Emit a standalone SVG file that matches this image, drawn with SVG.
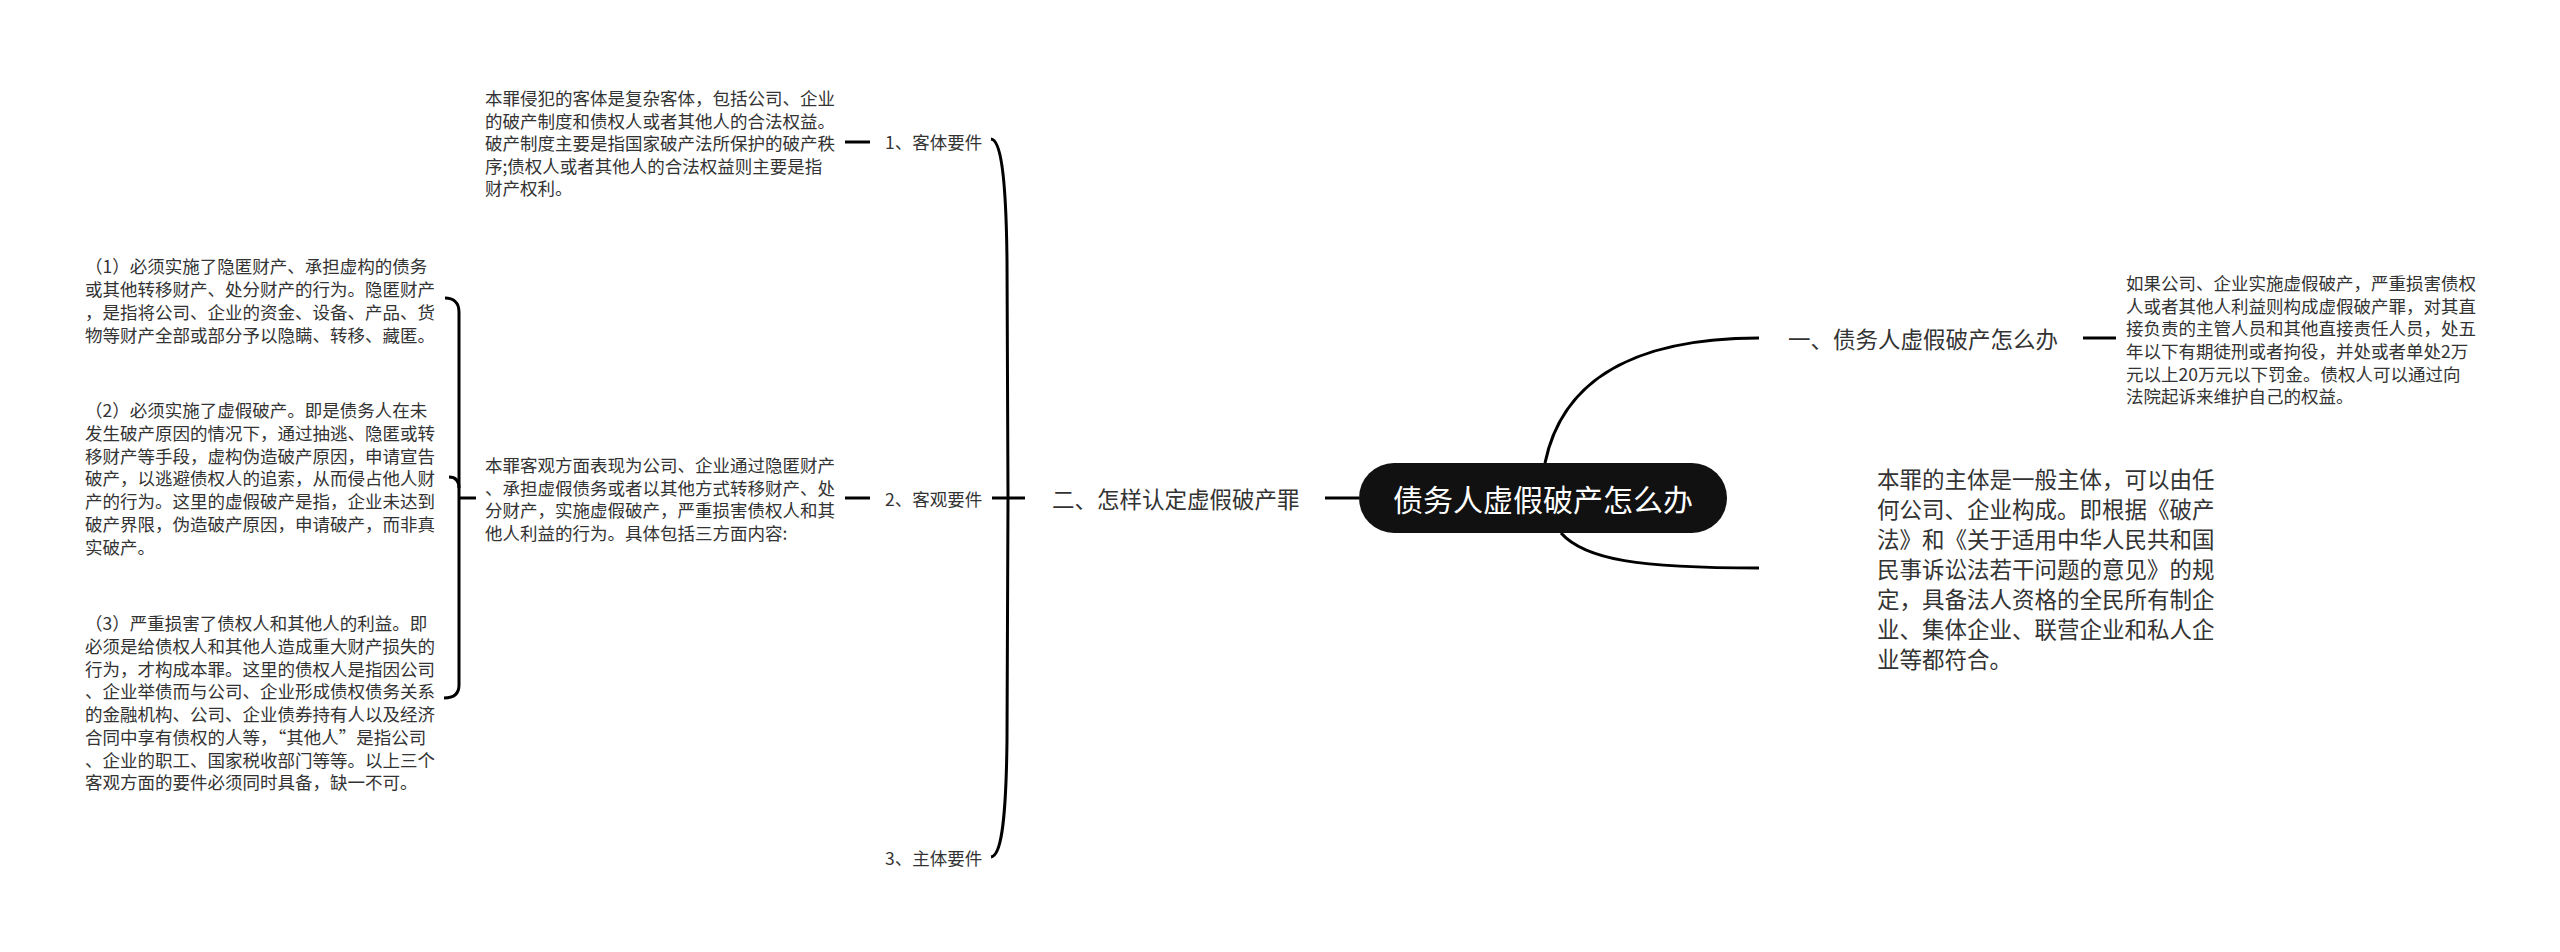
<svg xmlns="http://www.w3.org/2000/svg" width="2560" height="952" viewBox="0 0 2560 952">
<style>
text{font-family:"Noto Sans CJK SC","Noto Sans",sans-serif;fill:#333;dominant-baseline:central}
.s{font-size:17.5px}
.m{font-size:22.5px}
.root{font-size:30px;fill:#fff;text-anchor:middle}
.c{fill:none;stroke:#000;stroke-width:3;stroke-linecap:butt}
</style>
<rect width="2560" height="952" fill="#fff"/>
<g id="connectors">
<path class="c" d="M1325,498 L1359,498"/>
<path class="c" d="M1545,463 C1560,390 1620,338 1759,338"/>
<path class="c" d="M1561,533 C1585,560 1640,568 1759,568"/>
<path class="c" d="M2083,338 L2116,338"/>
<path class="c" d="M992,498 L1025,498"/>
<path class="c" d="M991,139 C1000,140 1006,170 1007,260 L1008,498 L1007,740 C1006,830 1000,856 991,857"/>
<path class="c" d="M845,142 L870,142"/>
<path class="c" d="M845,498 L870,498"/>
<path class="c" d="M460,498 L476,498"/>
<path class="c" d="M445,298 C453,298 459,302 459,312 L459,685 C459,694 453,698 444,698"/>
<path class="c" d="M449,477 C455,477 459,480 459,488"/>
</g>
<g id="root">
<rect x="1359" y="463" width="368" height="70" rx="35" fill="#111"/>
<text class="root" x="1543" y="498">债务人虚假破产怎么办</text>
</g>
<g id="n-yi">
<text class="m" x="1788" y="338">一、债务人虚假破产怎么办</text>
</g>
<g id="n-yi-detail">
<text class="s" x="2126"><tspan x="2126" y="282">如果公司、企业实施虚假破产，严重损害债权</tspan><tspan x="2126" y="305">人或者其他人利益则构成虚假破产罪，对其直</tspan><tspan x="2126" y="327">接负责的主管人员和其他直接责任人员，处五</tspan><tspan x="2126" y="350">年以下有期徒刑或者拘役，并处或者单处2万</tspan><tspan x="2126" y="373">元以上20万元以下罚金。债权人可以通过向</tspan><tspan x="2126" y="395">法院起诉来维护自己的权益。</tspan></text>
</g>
<g id="n-subject">
<text class="m" x="1877"><tspan x="1877" y="478">本罪的主体是一般主体，可以由任</tspan><tspan x="1877" y="508">何公司、企业构成。即根据《破产</tspan><tspan x="1877" y="538">法》和《关于适用中华人民共和国</tspan><tspan x="1877" y="568">民事诉讼法若干问题的意见》的规</tspan><tspan x="1877" y="598">定，具备法人资格的全民所有制企</tspan><tspan x="1877" y="628">业、集体企业、联营企业和私人企</tspan><tspan x="1877" y="658">业等都符合。</tspan></text>
</g>
<g id="n-er">
<text class="m" x="1052" y="498">二、怎样认定虚假破产罪</text>
</g>
<g id="n-1">
<text class="s" x="885" y="141">1、客体要件</text>
</g>
<g id="n-2">
<text class="s" x="885" y="498">2、客观要件</text>
</g>
<g id="n-3">
<text class="s" x="885" y="857">3、主体要件</text>
</g>
<g id="n-1-detail">
<text class="s" x="485"><tspan x="485" y="97">本罪侵犯的客体是复杂客体，包括公司、企业</tspan><tspan x="485" y="120">的破产制度和债权人或者其他人的合法权益。</tspan><tspan x="485" y="142">破产制度主要是指国家破产法所保护的破产秩</tspan><tspan x="485" y="165">序;债权人或者其他人的合法权益则主要是指</tspan><tspan x="485" y="187">财产权利。</tspan></text>
</g>
<g id="n-2-detail">
<text class="s" x="485"><tspan x="485" y="464">本罪客观方面表现为公司、企业通过隐匿财产</tspan><tspan x="485" y="487">、承担虚假债务或者以其他方式转移财产、处</tspan><tspan x="485" y="509">分财产，实施虚假破产，严重损害债权人和其</tspan><tspan x="485" y="532">他人利益的行为。具体包括三方面内容:</tspan></text>
</g>
<g id="n-2-a">
<text class="s" x="85"><tspan x="85" y="265">（1）必须实施了隐匿财产、承担虚构的债务</tspan><tspan x="85" y="288">或其他转移财产、处分财产的行为。隐匿财产</tspan><tspan x="85" y="311">，是指将公司、企业的资金、设备、产品、货</tspan><tspan x="85" y="334">物等财产全部或部分予以隐瞒、转移、藏匿。</tspan></text>
</g>
<g id="n-2-b">
<text class="s" x="85"><tspan x="85" y="409">（2）必须实施了虚假破产。即是债务人在未</tspan><tspan x="85" y="432">发生破产原因的情况下，通过抽逃、隐匿或转</tspan><tspan x="85" y="455">移财产等手段，虚构伪造破产原因，申请宣告</tspan><tspan x="85" y="477">破产，以逃避债权人的追索，从而侵占他人财</tspan><tspan x="85" y="500">产的行为。这里的虚假破产是指，企业未达到</tspan><tspan x="85" y="523">破产界限，伪造破产原因，申请破产，而非真</tspan><tspan x="85" y="546">实破产。</tspan></text>
</g>
<g id="n-2-c">
<text class="s" x="85"><tspan x="85" y="622">（3）严重损害了债权人和其他人的利益。即</tspan><tspan x="85" y="645">必须是给债权人和其他人造成重大财产损失的</tspan><tspan x="85" y="668">行为，才构成本罪。这里的债权人是指因公司</tspan><tspan x="85" y="690">、企业举债而与公司、企业形成债权债务关系</tspan><tspan x="85" y="713">的金融机构、公司、企业债券持有人以及经济</tspan><tspan x="85" y="736">合同中享有债权的人等，“其他人”是指公司</tspan><tspan x="85" y="759">、企业的职工、国家税收部门等等。以上三个</tspan><tspan x="85" y="781">客观方面的要件必须同时具备，缺一不可。</tspan></text>
</g>
</svg>
